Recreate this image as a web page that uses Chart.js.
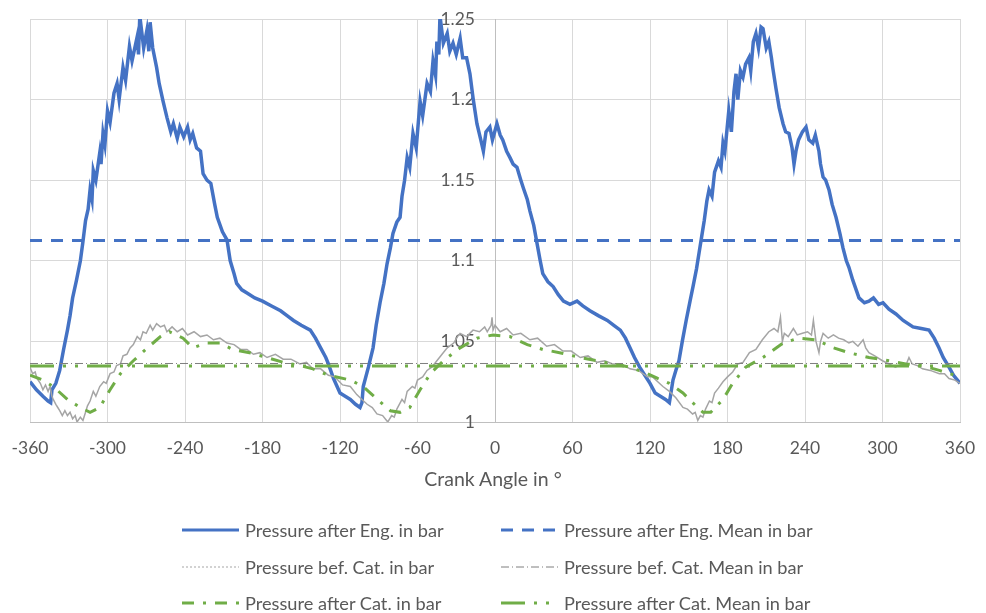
<!DOCTYPE html>
<html lang="en">
<head>
  <meta charset="UTF-8">
  <title>Exhaust Pressure vs Crank Angle</title>
  <script src="https://cdn.jsdelivr.net/npm/chart.js"></script>
  <style>
    body { margin: 0; background: white; font-family: Lato, sans-serif; }
    #wrap { position: relative; width: 986px; height: 613px; }
    #xtitle {
      position: absolute; left: 0; width: 986px; top: 467px;
      text-align: center; color: #595959; font-size: 19.5px; line-height: 24px;
    }
    #legend {
      position: absolute;
      left: 182px;
      top: 512px;
      display: grid;
      grid-template-columns: 319px auto;
      grid-auto-rows: 36.5px;
      color: #595959;
      font-size: 18.2px;
    }
    .item { display: flex; align-items: center; }
    .item svg { margin-right: 6px; }
  </style>
</head>
<body>
  <div id="wrap">
    <canvas id="chart" width="986" height="613"></canvas>
    <div id="xtitle">Crank Angle in °</div>
    <div id="legend"></div>
  </div>

  <script>
    // axis ticks
    const angleTicks = [-360, -300, -240, -180, -120, -60, 0, 60, 120, 180, 240, 300, 360];
    const pressureTicks = [1, 1.05, 1.1, 1.15, 1.2, 1.25];

    // [crank angle in deg, pressure in bar]
    const engPressure = [
      [-360, 1.025], [-355, 1.020], [-350, 1.016], [-346, 1.013], [-344, 1.012], [-343, 1.020],
      [-340, 1.024], [-337, 1.032], [-334, 1.045], [-331, 1.057], [-329, 1.066], [-327, 1.077],
      [-324, 1.088], [-321, 1.100], [-319, 1.112], [-317, 1.125], [-315, 1.132], [-313.5, 1.144],
      [-312, 1.138], [-311, 1.156], [-309, 1.150], [-306, 1.167], [-305, 1.160], [-303.5, 1.179],
      [-302, 1.172], [-300, 1.193], [-298, 1.186], [-295, 1.204], [-292.6, 1.210], [-291, 1.200],
      [-288, 1.220], [-286, 1.212], [-283, 1.233], [-281, 1.224], [-277, 1.239], [-276, 1.228],
      [-275, 1.252], [-272, 1.232], [-269.5, 1.243], [-268, 1.230], [-267, 1.248], [-265, 1.232],
      [-262, 1.220], [-260, 1.210], [-257, 1.199], [-254, 1.189], [-251, 1.180], [-249, 1.185],
      [-246, 1.176], [-244, 1.183], [-241, 1.177], [-238, 1.183], [-236, 1.175], [-234, 1.179],
      [-231, 1.170], [-228, 1.168], [-226, 1.154], [-223, 1.150], [-220, 1.148], [-217, 1.135],
      [-215, 1.127], [-211, 1.118], [-207.5, 1.113], [-205, 1.100], [-202, 1.092], [-200, 1.086],
      [-196, 1.082], [-192, 1.080], [-186, 1.077], [-180, 1.075], [-173, 1.072], [-166, 1.069],
      [-161, 1.066], [-156, 1.063], [-150, 1.060], [-143, 1.057], [-139, 1.052], [-135, 1.046],
      [-131, 1.040], [-129, 1.036], [-125, 1.027], [-120, 1.018], [-116, 1.016], [-112, 1.014],
      [-108, 1.011], [-104.5, 1.009], [-103, 1.012], [-102, 1.022], [-98, 1.034], [-94.4, 1.046],
      [-92, 1.060], [-89, 1.074], [-86, 1.086], [-83.6, 1.098], [-81, 1.108], [-79, 1.117],
      [-76, 1.124], [-73.5, 1.127], [-72, 1.140], [-70, 1.150], [-68, 1.164], [-66, 1.158],
      [-63.5, 1.179], [-61, 1.170], [-58, 1.199], [-56, 1.190], [-52.6, 1.210], [-50, 1.205],
      [-48, 1.224], [-46, 1.215], [-45, 1.236], [-43.5, 1.228], [-42.6, 1.252], [-40, 1.235],
      [-37, 1.241], [-35, 1.230], [-32.5, 1.235], [-30, 1.228], [-27, 1.238], [-25, 1.226],
      [-22, 1.226], [-19.4, 1.216], [-17, 1.201], [-14, 1.185], [-11, 1.175], [-9, 1.168],
      [-7, 1.180], [-4, 1.183], [-2, 1.175], [1.5, 1.185], [4, 1.178], [6, 1.175],
      [9, 1.168], [11.6, 1.164], [14, 1.160], [17, 1.158], [20, 1.150], [22, 1.145],
      [25, 1.138], [27, 1.131], [30, 1.122], [32.5, 1.111], [35, 1.100], [37, 1.092],
      [41, 1.087], [45, 1.084], [49, 1.079], [53, 1.075], [58, 1.073], [63.5, 1.075],
      [68, 1.072], [73.5, 1.069], [80, 1.066], [87, 1.063], [92, 1.060], [97, 1.057],
      [101, 1.052], [104.5, 1.046], [108, 1.040], [112, 1.034], [116, 1.029], [120, 1.024],
      [124, 1.018], [128, 1.016], [132, 1.014], [135, 1.012], [137.8, 1.026], [140, 1.032],
      [142.4, 1.038], [145, 1.050], [148, 1.063], [151, 1.075], [153.3, 1.084], [156, 1.095],
      [158, 1.105], [160, 1.115], [162, 1.125], [164, 1.137], [165.7, 1.144], [168, 1.140],
      [170, 1.155], [173, 1.162], [175, 1.158], [176.5, 1.173], [178, 1.168], [181, 1.193],
      [183, 1.180], [185, 1.205], [186.6, 1.216], [188, 1.200], [190, 1.218], [192, 1.214],
      [194, 1.222], [196.6, 1.226], [198, 1.218], [200, 1.236], [202, 1.241], [204, 1.232],
      [206, 1.245], [207.5, 1.244], [210, 1.232], [212, 1.236], [214, 1.226], [215, 1.220],
      [217.5, 1.207], [220, 1.195], [223, 1.185], [225, 1.180], [227.6, 1.179], [230, 1.170],
      [231.5, 1.160], [233, 1.168], [235, 1.175], [238, 1.180], [240.8, 1.183], [243, 1.175],
      [246, 1.173], [248, 1.178], [250.8, 1.168], [252, 1.160], [254, 1.152], [256, 1.150],
      [258.6, 1.144], [261, 1.135], [264, 1.127], [267, 1.117], [269.4, 1.108], [272, 1.100],
      [274, 1.096], [277, 1.088], [281.8, 1.077], [286, 1.074], [289.5, 1.075], [293, 1.077],
      [297, 1.073], [300.4, 1.074], [305, 1.070], [310.4, 1.067], [316, 1.063], [323.6, 1.059],
      [330, 1.058], [336, 1.057], [340, 1.052], [343.7, 1.046], [347, 1.040], [351.5, 1.034],
      [355, 1.029], [360, 1.024]
    ];

    const befPressure = [
      [-360, 1.034], [-358, 1.030], [-356, 1.031], [-354.6, 1.027], [-352, 1.024], [-350, 1.020],
      [-348, 1.023], [-346, 1.019], [-344.5, 1.022], [-343, 1.016], [-342, 1.014], [-340, 1.011],
      [-338.5, 1.009], [-337, 1.007], [-335, 1.004], [-333, 1.007], [-331, 1.004], [-329, 1.006],
      [-327, 1.002], [-325, 1.004], [-323.6, 1.000], [-321, 1.003], [-319, 1.001], [-317, 1.006],
      [-315.5, 1.010], [-313.5, 1.013], [-311, 1.019], [-309, 1.016], [-306, 1.022], [-303, 1.025],
      [-301, 1.024], [-298, 1.030], [-295, 1.031], [-293, 1.035], [-290, 1.036], [-288, 1.041],
      [-285, 1.042], [-282.5, 1.046], [-280, 1.048], [-277, 1.053], [-274.5, 1.051], [-272.5, 1.056],
      [-270, 1.055], [-267, 1.060], [-265, 1.057], [-262, 1.061], [-259, 1.059], [-256, 1.060],
      [-254, 1.056], [-250, 1.059], [-246, 1.056], [-242, 1.058], [-238, 1.054], [-233, 1.056],
      [-228, 1.053], [-223, 1.054], [-218, 1.051], [-213, 1.052], [-207.5, 1.049], [-202, 1.048],
      [-197, 1.045], [-192, 1.045], [-187, 1.042], [-182, 1.043], [-176.5, 1.040], [-170, 1.042],
      [-164, 1.039], [-158, 1.039], [-151, 1.036], [-146, 1.037], [-141, 1.033], [-135, 1.033],
      [-129, 1.029], [-124, 1.028], [-118, 1.023], [-112, 1.022], [-107, 1.017], [-103, 1.014],
      [-99, 1.011], [-95, 1.009], [-91.4, 1.005], [-87, 1.004], [-83, 1.000], [-80, 1.004],
      [-78, 1.003], [-76, 1.008], [-72, 1.014], [-70, 1.012], [-68, 1.019], [-64, 1.022],
      [-62, 1.021], [-60, 1.026], [-56, 1.028], [-52.6, 1.032], [-49, 1.034], [-45, 1.038],
      [-41, 1.042], [-37, 1.046], [-32, 1.049], [-29, 1.053], [-27, 1.055], [-22, 1.053],
      [-17, 1.057], [-12, 1.056], [-8, 1.059], [-6, 1.056], [-3, 1.060], [-2.3, 1.065],
      [-1.5, 1.057], [0, 1.060], [4, 1.056], [9, 1.058], [14, 1.054], [20, 1.055],
      [27, 1.051], [33, 1.052], [40, 1.047], [46, 1.048], [52.6, 1.044], [59, 1.044],
      [66, 1.040], [72, 1.041], [79, 1.037], [85, 1.038], [91, 1.036], [98, 1.036],
      [104.5, 1.033], [111, 1.032], [118, 1.028], [122, 1.028], [126, 1.025], [130, 1.022],
      [135, 1.019], [140, 1.015], [145.5, 1.009], [149, 1.008], [153, 1.005], [155, 1.006],
      [157, 1.001], [159, 1.004], [161, 1.003], [163, 1.008], [166, 1.013], [168, 1.012],
      [170, 1.018], [173, 1.021], [176.5, 1.025], [180, 1.028], [184, 1.031], [188, 1.036],
      [192, 1.037], [197, 1.043], [202, 1.045], [207, 1.051], [212, 1.056], [216, 1.058],
      [219, 1.056], [221, 1.065], [222.5, 1.050], [224, 1.055], [227, 1.053], [231, 1.058],
      [234, 1.054], [238, 1.055], [242, 1.056], [245, 1.054], [246.5, 1.063], [248.5, 1.050],
      [250.8, 1.043], [252, 1.050], [254, 1.055], [258, 1.052], [262, 1.054], [266, 1.052],
      [270, 1.051], [274, 1.049], [277, 1.050], [281, 1.047], [285, 1.051], [287, 1.046],
      [289.5, 1.043], [294, 1.041], [300, 1.038], [305, 1.036], [310, 1.034], [315, 1.036],
      [318, 1.035], [320.5, 1.040], [323, 1.036], [327, 1.035], [331, 1.033], [337, 1.032],
      [344, 1.030], [348, 1.030], [351.5, 1.027], [356, 1.026], [360, 1.024]
    ];

    const aftPressure = [
      [-360, 1.029], [-350, 1.026], [-342, 1.022], [-331, 1.014], [-321, 1.009], [-313.5, 1.006],
      [-306, 1.009], [-298, 1.020], [-290, 1.030], [-280, 1.038], [-269, 1.046], [-259, 1.053],
      [-252, 1.056], [-241.5, 1.052], [-234, 1.046], [-223, 1.049], [-213, 1.049], [-203, 1.045],
      [-190, 1.043], [-176.5, 1.040], [-164, 1.037], [-151, 1.035], [-141, 1.033], [-129, 1.029],
      [-112, 1.026], [-102, 1.022], [-91, 1.014], [-81, 1.007], [-73.5, 1.006], [-66, 1.009],
      [-58, 1.020], [-50, 1.030], [-40, 1.038], [-27, 1.046], [-14, 1.052], [-1.5, 1.054],
      [11.6, 1.053], [25, 1.048], [37, 1.045], [50, 1.043], [66, 1.040], [79, 1.038],
      [91, 1.036], [104.5, 1.034], [118, 1.030], [126, 1.027], [135, 1.024], [145.5, 1.018],
      [153, 1.012], [161, 1.006], [167, 1.006], [176.5, 1.014], [184, 1.024], [194, 1.034],
      [207.5, 1.040], [223, 1.049], [235, 1.052], [248.5, 1.051], [262, 1.046], [274, 1.043],
      [289.5, 1.040], [305, 1.038], [318, 1.036], [331, 1.035], [344, 1.032], [360, 1.028]
    ];

    const meanAngle = [-360, 360];
    const engMean = 1.1126;
    const befMean = 1.0363;
    const aftMean = 1.0347;

    const toXY = rows => rows.map(([x, y]) => ({ x, y }));
    const flat = v => meanAngle.map(x => ({ x, y: v }));

    const FONT = 'Lato, sans-serif';
    const TEXT = '#595959';

    const datasets = [
      {
        label: 'Pressure after Eng. in bar',
        data: toXY(engPressure),
        borderColor: '#4472c4', borderWidth: 3.5, order: 5, clip: 0
      },
      {
        label: 'Pressure after Eng. Mean in bar',
        data: flat(engMean),
        borderColor: '#4472c4', borderWidth: 3, borderDash: [12, 9], order: 4
      },
      {
        label: 'Pressure bef. Cat. in bar',
        data: toXY(befPressure),
        borderColor: '#a5a5a5', borderWidth: 1.5, order: 3,
        legendDash: [2, 2]
      },
      {
        label: 'Pressure bef. Cat. Mean in bar',
        data: flat(befMean),
        borderColor: '#7f7f7f', borderWidth: 1, borderDash: [8, 3, 1, 3], order: 2
      },
      {
        label: 'Pressure after Cat. in bar',
        data: toXY(aftPressure),
        borderColor: '#70ad47', borderWidth: 3, borderDash: [12, 9, 3, 9], order: 1
      },
      {
        label: 'Pressure after Cat. Mean in bar',
        data: flat(aftMean),
        borderColor: '#70ad47', borderWidth: 3, borderDash: [24, 9, 3, 9, 3, 9], order: 0
      }
    ];

    const pad = { top: 19, left: 30, right: 26, bottom: 150 };

    const ctx = document.getElementById('chart').getContext('2d');
    const chart = new Chart(ctx, {
      type: 'line',
      data: { datasets },
      options: {
        responsive: false,
        animation: false,
        elements: { point: { radius: 0 }, line: { tension: 0, borderCapStyle: 'butt' } },
        layout: { padding: pad },
        plugins: { legend: { display: false }, tooltip: { enabled: false } },
        scales: {
          x: {
            type: 'linear',
            min: -360, max: 360,
            afterBuildTicks: s => { s.ticks = angleTicks.map(v => ({ value: v })); },
            // invisible tick marks push the labels down without widening the side padding
            grid: { color: '#d9d9d9', drawTicks: true, tickLength: 13, tickColor: 'rgba(0,0,0,0)' },
            border: { color: '#bfbfbf' },
            ticks: { color: TEXT, padding: 3, font: { family: FONT, size: 17.5 }, callback: v => String(v) }
          },
          y: {
            type: 'linear',
            min: 1, max: 1.25,
            position: { x: 0 },
            afterBuildTicks: s => { s.ticks = pressureTicks.map(v => ({ value: v })); },
            grid: { color: '#d9d9d9', drawTicks: false },
            border: { color: '#bfbfbf' },
            ticks: { display: false }
          },
          // labels sit on top of the curves, a little left of the 0° axis
          yLabels: {
            type: 'linear',
            min: 1, max: 1.25,
            position: { x: -15.5 },
            z: 1,
            afterBuildTicks: s => { s.ticks = pressureTicks.map(v => ({ value: v })); },
            grid: { display: false, drawTicks: false },
            border: { display: false },
            ticks: {
              color: TEXT, font: { family: FONT, size: 17.5 },
              callback: v => String(+v.toFixed(2))
            }
          }
        }
      }
    });

    // nudge the padding until the plot area sits where the original has it
    const target = { left: 30, top: 19, right: 960, bottom: 422 };
    for (let i = 0; i < 4; i++) {
      const a = chart.chartArea;
      pad.left += target.left - a.left;
      pad.top += target.top - a.top;
      pad.right += a.right - target.right;
      pad.bottom += a.bottom - target.bottom;
      chart.update();
    }

    // html legend, two columns
    const legend = document.getElementById('legend');
    for (const ds of datasets) {
      const item = document.createElement('div');
      item.className = 'item';
      const dash = ds.legendDash || ds.borderDash;
      const w = ds.legendDash ? 1 : Math.min(ds.borderWidth, 3);
      item.innerHTML =
        `<svg width="57" height="8"><line x1="0" y1="4" x2="57" y2="4" stroke="${ds.borderColor}"` +
        ` stroke-width="${w}"` + (dash ? ` stroke-dasharray="${dash.join(' ')}"` : '') +
        `/></svg><span>${ds.label}</span>`;
      legend.appendChild(item);
    }
  </script>
</body>
</html>
